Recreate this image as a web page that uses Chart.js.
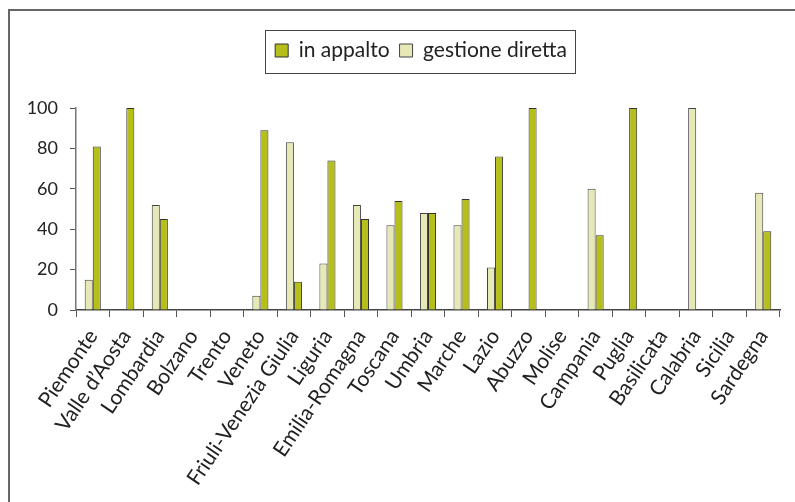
<!DOCTYPE html>
<html>
<head>
<meta charset="utf-8">
<script src="https://cdn.jsdelivr.net/npm/chart.js@4/dist/chart.umd.min.js"></script>
<style>
  html, body { margin: 0; padding: 0; background: #fff; }
  .wrapper { position: relative; width: 795px; height: 502px; }
  .frame { position: absolute; left: 8px; top: 9px; right: 0; bottom: 0; border-top: 2px solid #666; border-left: 2px solid #666; pointer-events: none; }
  canvas { position: absolute; left: 0; top: 0; }
</style>
</head>
<body>
<div class="wrapper">
  <canvas id="chart" width="795" height="502"></canvas>
  <div class="frame"></div>
</div>
<script>
const regions = ['Piemonte', 'Valle d\u2019Aosta', 'Lombardia', 'Bolzano', 'Trento', 'Veneto',
  'Friuli-Venezia Giulia', 'Liguria', 'Emilia-Romagna', 'Toscana', 'Umbria', 'Marche', 'Lazio',
  'Abuzzo', 'Molise', 'Campania', 'Puglia', 'Basilicata', 'Calabria', 'Sicilia', 'Sardegna'];

const gestioneDiretta = [15, null, 52, null, null, 7, 83, 23, 52, 42, 48, 42, 21, null, null, 60, null, null, 100, null, 58];
const inAppalto = [81, 100, 45, null, null, 89, 14, 74, 45, 54, 48, 55, 76, 100, null, 37, 100, null, null, null, 39];

const yTicks = [0, 20, 40, 60, 80, 100];

const FONT = 'Lato, "Open Sans", sans-serif';

// taller legend block so the plot starts lower, and centred over the plot
const legendSpace = {
  id: 'legendSpace',
  beforeInit (chart) {
    const fit = chart.legend.fit;
    chart.legend.fit = function () {
      fit.bind(chart.legend)();
      this.height += 37;
    };
  },
  afterLayout (chart) {
    chart.legend.left += 23;
    chart.legend.right += 23;
  },
};

// draws a box round the legend items
const legendBox = {
  id: 'legendBox',
  afterDraw (chart) {
    const boxes = chart.legend.legendHitBoxes;
    if (!boxes || !boxes.length) {
      return;
    }
    const left = Math.min(...boxes.map((b) => b.left)) - 10;
    const right = Math.max(...boxes.map((b) => b.left + b.width)) + 8;
    const mid = boxes[0].top + boxes[0].height / 2;
    const { ctx } = chart;
    ctx.save();
    ctx.strokeStyle = '#444';
    ctx.lineWidth = 1;
    ctx.strokeRect(Math.round(left) + 0.5, Math.round(mid - 21) + 0.5, Math.round(right - left), 43);
    ctx.restore();
  },
};

new Chart(document.getElementById('chart'), {
  type: 'bar',
  data: {
    labels: regions,
    datasets: [
      {
        label: 'gestione diretta',
        data: gestioneDiretta,
        backgroundColor: '#e6e8b6',
        borderColor: '#444',
        borderWidth: 1,
      },
      {
        label: 'in appalto',
        data: inAppalto,
        backgroundColor: '#b6be1a',
        borderColor: '#333',
        borderWidth: 1,
      },
    ],
  },
  options: {
    responsive: false,
    animation: false,
    layout: { padding: { left: 16, right: 15, top: 30, bottom: 0 } },
    datasets: {
      bar: { categoryPercentage: 0.48, barPercentage: 1 },
    },
    plugins: {
      tooltip: { enabled: false },
      legend: {
        position: 'top',
        reverse: true,
        labels: {
          boxWidth: 13,
          boxHeight: 13,
          padding: 10,
          color: '#222',
          font: { family: FONT, size: 21 },
        },
      },
    },
    scales: {
      x: {
        grid: {
          offset: true,
          drawOnChartArea: false,
          tickLength: 7,
          color: '#555',
        },
        border: { color: '#444', width: 1.5 },
        ticks: {
          minRotation: 56,
          maxRotation: 56,
          autoSkip: false,
          color: '#222',
          font: { family: FONT, size: 21 },
          padding: 8,
        },
        afterFit (scale) {
          scale.height = 192;
        },
      },
      y: {
        min: 0,
        max: 100,
        afterBuildTicks (scale) {
          scale.ticks = yTicks.map((v) => ({ value: v }));
        },
        grid: {
          drawOnChartArea: false,
          tickLength: 6,
          color: '#555',
        },
        border: { color: '#777', width: 1.5 },
        ticks: {
          color: '#222',
          font: { family: FONT, size: 18 },
          padding: 12,
        },
        afterFit (scale) {
          scale.width = 60;
        },
      },
    },
  },
  plugins: [legendSpace, legendBox],
});
</script>
</body>
</html>
